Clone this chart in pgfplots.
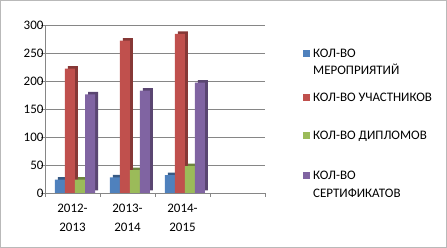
\documentclass[border=0pt]{standalone}
\usepackage{pgfplots}
\pgfplotsset{compat=1.18}
\usepackage{fontspec}
\setmainfont{Carlito}
\definecolor{cblue}{HTML}{4F81BD}
\definecolor{cred}{HTML}{C0504D}
\definecolor{cgreen}{HTML}{9BBB59}
\definecolor{cpurple}{HTML}{8064A2}
\definecolor{gridc}{HTML}{868686}
\newcommand\lstrut[1]{\rule[-4pt]{0pt}{#1}}
\pgfplotsset{sqlegend/.style={legend image code/.code={\fill[##1] (0pt,0.5pt) rectangle (7pt,7.5pt);}}}
\begin{document}
\begin{tikzpicture}[x=1pt,y=1pt]
\draw[gray!55, line width=1pt] (0.5,0.5) rectangle (446.5,247.5);
\useasboundingbox (0,0) rectangle (447,248);
\begin{axis}[
  at={(45pt,55pt)}, anchor=south west,
  scale only axis, width=220pt, height=168pt,
  ymin=0, ymax=300, ytick={0,50,...,300},
  xmin=-0.5, xmax=3.5,
  xtick={-0.5,0.5,1.5,2.5,3.5}, xticklabels={},
  extra x ticks={0,1,2},
  extra x tick labels={{2012-\\2013},{2013-\\2014},{2014-\\2015}},
  extra x tick style={major tick length=0pt, xticklabel style={align=center, font=\fontsize{13}{19}\selectfont, yshift=-8pt}},
  axis lines*=left,
  axis line style={gridc},
  tick style={gridc},
  tick align=outside, major tick length=4pt,
  ymajorgrids, grid style={gridc},
  enlargelimits=false,
  ybar, bar width=10pt,
  /pgf/number format/assume math mode=true,
  yticklabel style={font=\fontsize{13}{13}\selectfont, xshift=6pt},
  legend style={at={(1.159,0.893)}, anchor=north west, draw=none, fill=none,
    column sep=3pt, nodes={inner sep=0pt, text depth=, text height=},
    cells={anchor=base west}, font=\fontsize{13}{14}\selectfont},
  clip=false,
]
\addplot[fill=cblue!70!black, draw=none, bar shift=-12.5pt, xshift=3pt, yshift=2.5pt, forget plot] coordinates {(0,24) (1,28) (2,32)};
\addplot[fill=cblue, draw=none, bar shift=-12.5pt, sqlegend] coordinates {(0,24) (1,28) (2,32)};
\addlegendentry{\lstrut{16pt}КОЛ-ВО}
\addlegendimage{empty legend}
\addlegendentry{\lstrut{17pt}МЕРОПРИЯТИЙ}
\addplot[fill=cred!70!black, draw=none, bar shift=-2.5pt, xshift=3pt, yshift=2.5pt, forget plot] coordinates {(0,222) (1,272) (2,284)};
\addplot[fill=cred, draw=none, bar shift=-2.5pt, sqlegend] coordinates {(0,222) (1,272) (2,284)};
\addlegendentry{\lstrut{27pt}КОЛ-ВО УЧАСТНИКОВ}
\addplot[fill=cgreen!70!black, draw=none, bar shift=7.5pt, xshift=3pt, yshift=2.5pt, forget plot] coordinates {(0,24) (1,41) (2,48)};
\addplot[fill=cgreen, draw=none, bar shift=7.5pt, sqlegend] coordinates {(0,24) (1,41) (2,48)};
\addlegendentry{\lstrut{38pt}КОЛ-ВО ДИПЛОМОВ}
\addplot[fill=cpurple!70!black, draw=none, bar shift=17.5pt, xshift=3pt, yshift=2.5pt, forget plot] coordinates {(0,176) (1,183) (2,197)};
\addplot[fill=cpurple, draw=none, bar shift=17.5pt, sqlegend] coordinates {(0,176) (1,183) (2,197)};
\addlegendentry{\lstrut{40pt}КОЛ-ВО}
\addlegendimage{empty legend}
\addlegendentry{\lstrut{18pt}СЕРТИФИКАТОВ}
\end{axis}
\end{tikzpicture}
\end{document}
